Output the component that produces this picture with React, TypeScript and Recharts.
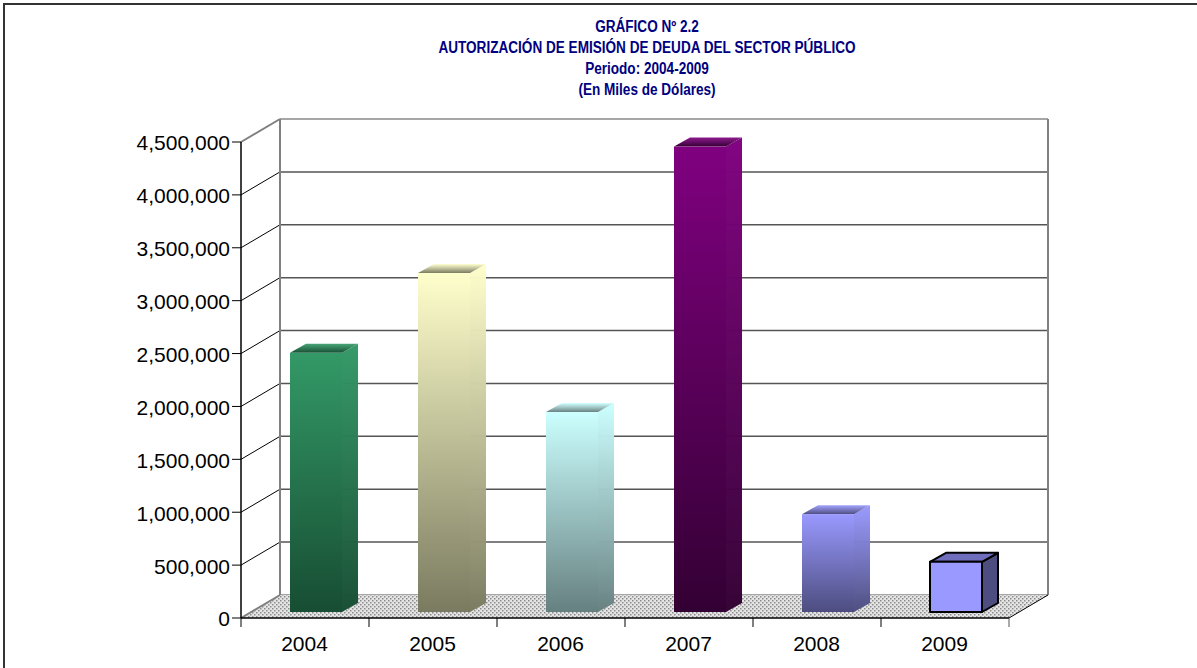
import React from "react";
import {
  BarChart,
  Bar,
  XAxis,
  YAxis,
  CartesianGrid,
  usePlotArea,
} from "recharts";

const years = ["2004", "2005", "2006", "2007", "2008", "2009"];
const amounts = [2450000, 3205000, 1890000, 4400000, 925000, 475000];
const yTicks = [0, 500000, 1000000, 1500000, 2000000, 2500000, 3000000, 3500000, 4000000, 4500000];
const titleLines = [
  "GRÁFICO Nº 2.2",
  "AUTORIZACIÓN DE EMISIÓN DE DEUDA DEL SECTOR PÚBLICO",
  "Periodo: 2004-2009",
  "(En Miles de Dólares)",
];
const topColors = ["#339966", "#ffffcc", "#ccffff", "#800080", "#9999ff", "#9999ff"];
const bottomColors = ["#174d33", "#7a7a60", "#668080", "#330033", "#4d4d80", "#9999ff"];

const tableData = years.map((year, i) => ({ year, amount: amounts[i] }));

// fake 3d depth of the box and of the bars
const DEPTH_X = 39;
const DEPTH_Y = 23;
const BAR_DX = 16;
const BAR_DY = 9;
const BAR_SHIFT_X = 11;
const BAR_SHIFT_Y = 6;
const BAND = 128;

function Walls() {
  const plot = usePlotArea();
  if (!plot) return null;
  const { x, y, width, height } = plot;
  const b = y + height;
  const r = x + width;
  return (
    <g>
      <polygon
        points={`${x},${b} ${x + DEPTH_X},${b - DEPTH_Y} ${r + DEPTH_X},${b - DEPTH_Y} ${r},${b}`}
        fill="url(#floorDots)"
      />
      <line x1={x + DEPTH_X} y1={y - DEPTH_Y} x2={x + DEPTH_X} y2={b - DEPTH_Y} stroke="#808080" strokeWidth={2} />
      <line x1={r + DEPTH_X} y1={y - DEPTH_Y} x2={r + DEPTH_X} y2={b - DEPTH_Y} stroke="#808080" strokeWidth={2} />
      <line x1={x} y1={b} x2={x + DEPTH_X} y2={b - DEPTH_Y} stroke="#808080" strokeWidth={2} />
      <line x1={r} y1={b} x2={r + DEPTH_X} y2={b - DEPTH_Y} stroke="#000" />
    </g>
  );
}

function gridLine(props: any) {
  const { x1, y1, x2, y2, index } = props;
  const isEdge = y1 === 142 || y1 === 618;
  return (
    <g key={index}>
      {y1 !== 618 && (
        <line
          x1={x1}
          y1={y1}
          x2={x1 + DEPTH_X}
          y2={y1 - DEPTH_Y}
          stroke={isEdge ? "#808080" : "#000"}
          strokeWidth={isEdge ? 2 : 1}
        />
      )}
      <line
        x1={x1 + DEPTH_X}
        y1={y1 - DEPTH_Y}
        x2={x2 + DEPTH_X}
        y2={y2 - DEPTH_Y}
        stroke={isEdge ? "#a6a6a6" : "#555"}
        strokeWidth={isEdge ? 2 : 1.5}
      />
    </g>
  );
}

function BoxBar(props: any) {
  const { x, y, width, height, index } = props;
  const left = x + BAR_SHIFT_X;
  const right = left + width;
  const top = y - BAR_SHIFT_Y;
  const bottom = top + height;
  const flat = topColors[index] === bottomColors[index];
  const lineProps = flat ? { stroke: "#000", strokeWidth: 2, strokeLinejoin: "round" as const } : {};
  return (
    <g>
      <polygon
        points={`${right},${top} ${right + BAR_DX},${top - BAR_DY} ${right + BAR_DX},${bottom - BAR_DY} ${right},${bottom}`}
        fill={flat ? "#4d4d80" : `url(#side${index})`}
        {...lineProps}
      />
      <polygon
        points={`${left},${top} ${left + BAR_DX},${top - BAR_DY} ${right + BAR_DX},${top - BAR_DY} ${right},${top}`}
        fill={flat ? "#6e6ebd" : `url(#lid${index})`}
        {...lineProps}
      />
      <rect x={left} y={top} width={width} height={height} fill={flat ? topColors[index] : `url(#front${index})`} {...lineProps} />
    </g>
  );
}

function YearTick(props: any) {
  const { x, y, payload, index } = props;
  const tickX = x - BAND / 2;
  return (
    <g>
      <line x1={tickX} y1={y - 8} x2={tickX} y2={y + 1} stroke="#000" />
      {index === years.length - 1 && <line x1={tickX + BAND} y1={y - 8} x2={tickX + BAND} y2={y + 1} stroke="#555" />}
      <text x={x - 0.5} y={y + 25} textAnchor="middle" fontSize={21} fill="#000" fontFamily="Liberation Sans">
        {payload.value}
      </text>
    </g>
  );
}

export default function App() {
  return (
    <div style={{ position: "absolute", left: 0, top: 0, width: 1197, height: 668, overflow: "hidden", background: "#fff" }}>
      <div style={{ position: "absolute", left: 3, top: 3, width: 1194, height: 665, borderTop: "2px solid #333", borderLeft: "2px solid #333" }} />
      <div
        style={{
          position: "absolute",
          left: 247,
          top: 16,
          width: 800,
          textAlign: "center",
          fontFamily: "Liberation Sans",
          fontWeight: "bold",
          fontSize: 16,
          lineHeight: "21px",
          color: "#000080",
          transform: "scaleX(0.848)",
        }}
      >
        {titleLines.map((line) => (
          <div key={line}>{line}</div>
        ))}
      </div>
      <BarChart
        width={1197}
        height={668}
        data={tableData}
        margin={{ top: 142, right: 188, left: 181, bottom: 20 }}
        barCategoryGap={0}
        style={{ position: "absolute", left: 0, top: 0 }}
      >
        <defs>
          <pattern id="floorDots" width="4" height="4" patternUnits="userSpaceOnUse">
            <rect width="4" height="4" fill="#e4e4e4" />
            <rect x="0" y="0" width="1.5" height="1.5" fill="#8c8c8c" />
            <rect x="2" y="2" width="1.5" height="1.5" fill="#8c8c8c" />
          </pattern>
          {years.map((year, i) => (
            <React.Fragment key={year}>
              <linearGradient id={`front${i}`} x1="0" y1="0" x2="0" y2="1">
                <stop offset="0" stopColor={topColors[i]} />
                <stop offset="1" stopColor={bottomColors[i]} />
              </linearGradient>
              <linearGradient id={`side${i}`} x1="0" y1="0" x2="0" y2="1">
                <stop offset="0" stopColor={topColors[i]} stopOpacity={0.98} />
                <stop offset="1" stopColor={bottomColors[i]} stopOpacity={0.98} />
              </linearGradient>
              <linearGradient id={`lid${i}`} x1="0" y1="0" x2="0" y2="1">
                <stop offset="0" stopColor={topColors[i]} stopOpacity={0.9} />
                <stop offset="1" stopColor={bottomColors[i]} />
              </linearGradient>
            </React.Fragment>
          ))}
        </defs>
        <Walls />
        <CartesianGrid vertical={false} horizontal={gridLine} />
        <XAxis
          dataKey="year"
          height={30}
          axisLine={{ stroke: "#000", strokeWidth: 1.5 }}
          tickLine={false}
          interval={0}
          tick={YearTick}
        />
        <YAxis
          width={60}
          domain={[0, 4500000]}
          ticks={yTicks}
          tickFormatter={(v: number) => v.toLocaleString("en-US")}
          axisLine={{ stroke: "#000", strokeWidth: 1.5 }}
          tickLine={{ stroke: "#000" }}
          tickSize={9}
          tickMargin={2}
          tick={{ fontSize: 21, fill: "#000", fontFamily: "Liberation Sans", dy: 1 }}
          interval={0}
        />
        <Bar dataKey="amount" barSize={52} shape={BoxBar} isAnimationActive={false} />
      </BarChart>
    </div>
  );
}
